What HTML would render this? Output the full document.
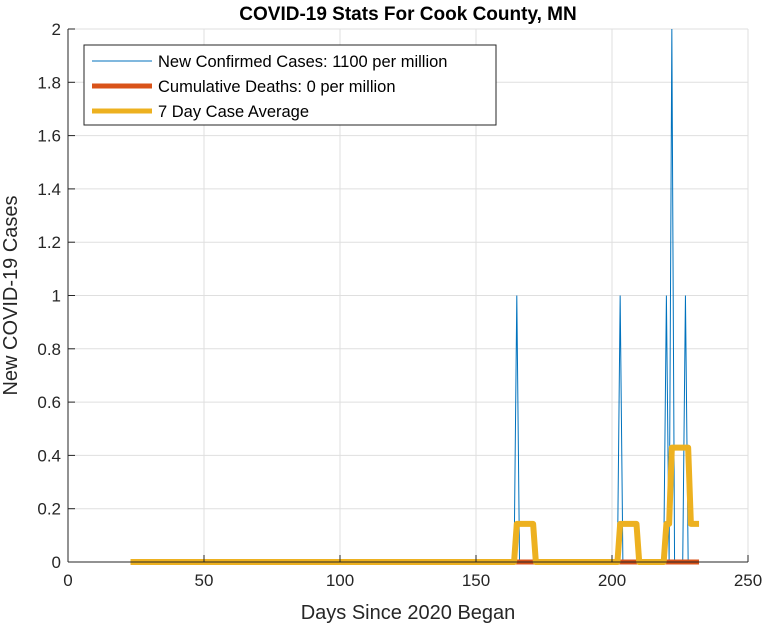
<!DOCTYPE html>
<html><head><meta charset="utf-8"><style>
body{margin:0;background:#fff;}
svg text{font-family:"Liberation Sans",Arial,sans-serif;}
</style></head><body>
<svg id="c" width="766" height="630" xmlns="http://www.w3.org/2000/svg"></svg>
<script>
const xTicks=[0,50,100,150,200,250];
const yTicks=[0,0.2,0.4,0.6,0.8,1,1.2,1.4,1.6,1.8,2];
const yTickLabels=['0','0.2','0.4','0.6','0.8','1','1.2','1.4','1.6','1.8','2'];
const firstDay=23, lastDay=232;
const caseDays=[165,203,220,222,227];
const caseVals=[1,1,1,2,1];
const deathVals=[0];
const avgDays=[165,166,167,168,169,170,171,203,204,205,206,207,208,209,220,221,222,223,224,225,226,227,228,229,230,231,232];
const avgVals=[0.143,0.143,0.143,0.143,0.143,0.143,0.143,0.143,0.143,0.143,0.143,0.143,0.143,0.143,0.143,0.143,0.429,0.429,0.429,0.429,0.429,0.429,0.429,0.143,0.143,0.143,0.143];

const L=68,R=748,T=29,B=562;
const X=d=>L+(d-0)/250*(R-L);
const Y=v=>B-v/2*(B-T);
const svg=document.getElementById('c');
const NS='http://www.w3.org/2000/svg';
function add(tag,attrs,name,text){const e=document.createElementNS(NS,tag);for(const k in attrs)e.setAttribute(k,attrs[k]);


if(text!==undefined)e.textContent=text;svg.appendChild(e);return e;}

xTicks.forEach(t=>{add('line',{x1:X(t),x2:X(t),y1:T,y2:B,stroke:'#dfdfdf','stroke-width':1},'x-grid-line');});
yTicks.forEach(t=>{add('line',{x1:L,x2:R,y1:Y(t),y2:Y(t),stroke:'#dfdfdf','stroke-width':1},'y-grid-line');});

function series(valFn){const pts=[];for(let d=firstDay;d<=lastDay;d++)pts.push(X(d).toFixed(2)+','+Y(valFn(d)).toFixed(2));return pts.join(' ');}
add('polyline',{points:series(d=>{const i=caseDays.indexOf(d);return i>=0?caseVals[i]:0;}),fill:'none',stroke:'#0072BD','stroke-width':1},'new-cases-line');
add('polyline',{points:series(d=>deathVals[0]),fill:'none',stroke:'#D95319','stroke-width':5},'cumulative-deaths-line');
add('polyline',{points:series(d=>{const i=avgDays.indexOf(d);return i>=0?avgVals[i]:0;}),fill:'none',stroke:'#EDB120','stroke-width':6,'stroke-linejoin':'round'},'seven-day-average-line');

add('line',{x1:L,x2:R,y1:B,y2:B,stroke:'#262626','stroke-width':1},'x-axis');
add('line',{x1:L,x2:L,y1:T,y2:B,stroke:'#262626','stroke-width':1},'y-axis');
xTicks.forEach(t=>{add('line',{x1:X(t),x2:X(t),y1:B,y2:B-7,stroke:'#262626'},'x-tick');
add('text',{x:X(t),y:B+24,'text-anchor':'middle','font-size':17,fill:'#262626'},'x-tick-label',String(t));});
yTicks.forEach((t,i)=>{add('line',{x1:L,x2:L+7,y1:Y(t),y2:Y(t),stroke:'#262626'},'y-tick');
add('text',{x:L-7,y:Y(t)+6,'text-anchor':'end','font-size':17,fill:'#262626'},'y-tick-label',yTickLabels[i]);});
add('text',{x:(L+R)/2,y:619,'text-anchor':'middle','font-size':20,fill:'#262626'},'x-axis-title','Days Since 2020 Began');
add('text',{x:0,y:0,'text-anchor':'middle','font-size':20,fill:'#262626',transform:'translate(17,'+((T+B)/2)+') rotate(-90)'},'y-axis-title','New COVID-19 Cases');
add('text',{x:(L+R)/2,y:20,'text-anchor':'middle','font-size':19,'font-weight':'bold',fill:'#000'},'chart-title','COVID-19 Stats For Cook County, MN');

add('rect',{x:84,y:45,width:412,height:80,fill:'#fff',stroke:'#262626','stroke-width':1},'legend-box');
const leg=[['New Confirmed Cases: 1100 per million','#0072BD',1],['Cumulative Deaths: 0 per million','#D95319',5],['7 Day Case Average','#EDB120',5]];
leg.forEach((l,i)=>{const y=61+i*25;
add('line',{x1:92,x2:152,y1:y,y2:y,stroke:l[1],'stroke-width':l[2]},'legend-swatch');
add('text',{x:158,y:y+6,'font-size':16.5,fill:'#000'},'legend-entry',l[0]);});
</script>
</body></html>
